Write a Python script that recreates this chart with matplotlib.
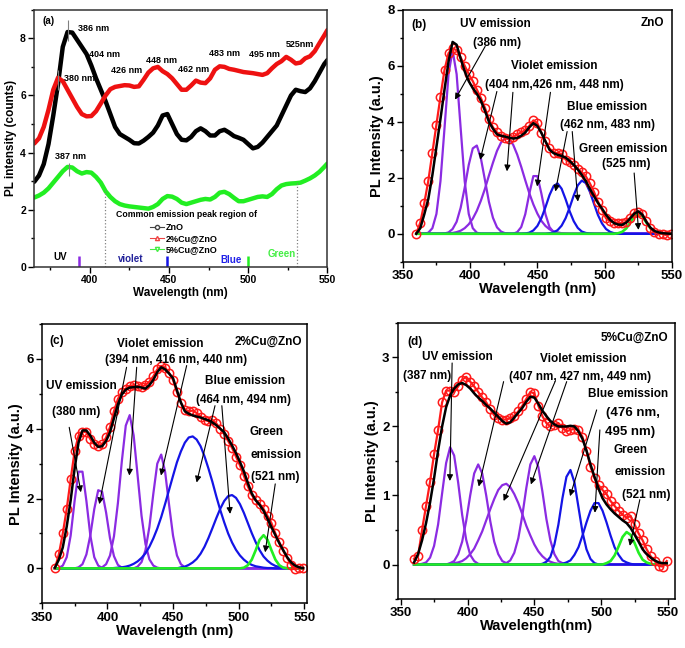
import numpy as np
import matplotlib.pyplot as plt
from matplotlib.lines import Line2D
from matplotlib.ticker import MultipleLocator

plt.rcParams['font.family'] = ['Liberation Sans', 'DejaVu Sans']
plt.rcParams['font.weight'] = 'bold'
plt.rcParams['axes.labelweight'] = 'bold'

PURPLE = '#8b2be2'
BLUE = '#1414e6'
GREEN = '#22ee22'

# ---- (a) raw PL spectra ----
wl_a = np.r_[np.arange(365, 549, 3), 550]
zno_a = [2.98, 3.2, 3.6, 4.3, 5.3, 6.4, 7.7, 8.22, 8.2, 7.95,
         7.7, 7.45, 7.05, 6.6, 6.2, 5.8, 5.35, 4.9, 4.65, 4.55,
         4.45, 4.33, 4.32, 4.42, 4.55, 4.7, 4.95, 5.3, 5.35, 5.0,
         4.65, 4.45, 4.43, 4.55, 4.75, 4.85, 4.75, 4.6, 4.6, 4.75,
         4.8, 4.7, 4.58, 4.52, 4.45, 4.3, 4.15, 4.2, 4.35, 4.55,
         4.75, 4.95, 5.3, 5.65, 6.0, 6.2, 6.15, 6.12, 6.25, 6.5,
         6.8, 7.1, 7.24]
cu2_a = [4.32, 4.5, 4.9, 5.5, 6.2, 6.62, 6.5, 6.2, 5.9, 5.6,
         5.35, 5.27, 5.28, 5.45, 5.72, 6.0, 6.22, 6.3, 6.33, 6.36,
         6.35, 6.3, 6.32, 6.55, 6.8, 6.95, 7.0, 6.85, 6.75, 6.6,
         6.4, 6.2, 6.2, 6.35, 6.52, 6.45, 6.43, 6.6, 6.9, 7.02,
         7.0, 6.93, 6.9, 6.86, 6.82, 6.8, 6.78, 6.75, 6.72, 6.78,
         6.95, 7.1, 7.2, 7.35, 7.25, 7.12, 7.15, 7.3, 7.37, 7.55,
         7.83, 8.1, 8.29]
cu5_a = [2.43, 2.5, 2.6, 2.75, 2.95, 3.15, 3.35, 3.5, 3.48, 3.35,
         3.27, 3.32, 3.3, 3.15, 2.95, 2.65, 2.45, 2.3, 2.2, 2.15,
         2.12, 2.1, 2.08, 2.06, 2.04, 2.1, 2.2, 2.38, 2.48, 2.46,
         2.38, 2.25, 2.2, 2.25, 2.3, 2.35, 2.38, 2.36, 2.45, 2.6,
         2.63, 2.55, 2.42, 2.3, 2.3, 2.35, 2.4, 2.45, 2.47, 2.45,
         2.55, 2.72, 2.85, 2.9, 2.92, 2.93, 2.95, 3.02, 3.1, 3.2,
         3.33, 3.5, 3.62]
peak_labels_a = ['386 nm', '404 nm', '380 nm', '426 nm', '448 nm',
                 '462 nm', '483 nm', '495 nm', '525nm', '387 nm']

# ---- (b)-(d) deconvoluted spectra, common grid 360..549 nm ----
wl_fit = np.arange(360, 550, 3)

zno_data = [0.0, 0.4, 1.1, 1.9, 2.9, 3.9, 4.9, 5.85, 6.45, 6.62,
            6.55, 6.3, 6.0, 5.7, 5.45, 5.15, 4.85, 4.5, 4.1, 3.8,
            3.62, 3.5, 3.42, 3.38, 3.45, 3.55, 3.62, 3.7, 3.85, 4.05,
            3.95, 3.6, 3.3, 3.05, 2.9, 2.88, 2.85, 2.65, 2.55, 2.45,
            2.3, 2.2, 2.05, 1.8, 1.5, 1.15, 0.85, 0.55, 0.45, 0.4,
            0.4, 0.38, 0.42, 0.58, 0.75, 0.78, 0.7, 0.45, 0.2, 0.05,
            0.0, 0.0, -0.05, 0.0]
zno_fit = [0.0, 0.2, 0.7, 1.25, 2.1, 3.1, 4.1, 5.15, 6.15, 6.85,
           6.75, 6.25, 5.8, 5.45, 5.2, 5.0, 4.75, 4.4, 4.0, 3.75,
           3.55, 3.5, 3.47, 3.43, 3.4, 3.42, 3.5, 3.62, 3.8, 3.95,
           3.85, 3.6, 3.3, 3.0, 2.88, 2.82, 2.78, 2.72, 2.6, 2.46,
           2.3, 2.1, 1.88, 1.6, 1.35, 1.1, 0.9, 0.68, 0.5, 0.38,
           0.33, 0.32, 0.4, 0.55, 0.72, 0.8, 0.68, 0.42, 0.22, 0.1,
           0.05, 0.02, 0.01, 0.0]
# (first wavelength, heights every 3 nm)
zno_peaks = [
    (369, [0.04, 0.2, 0.71, 1.88, 3.77, 5.7, 6.55, 5.7, 3.77, 1.88, 0.71, 0.2, 0.04]),
    (381, [0.01, 0.05, 0.17, 0.43, 0.93, 1.65, 2.46, 3.05, 3.15, 2.7, 1.93, 1.14,
           0.57, 0.23, 0.08, 0.02]),
    (384, [0.01, 0.03, 0.06, 0.11, 0.2, 0.34, 0.54, 0.82, 1.18, 1.6, 2.08, 2.54,
           2.96, 3.26, 3.41, 3.38, 3.18, 2.83, 2.39, 1.91, 1.45, 1.05, 0.72, 0.46,
           0.28, 0.16, 0.09, 0.05, 0.02, 0.01]),
    (435, [0.06, 0.24, 0.7, 1.43, 2.06, 2.06, 1.43, 0.7, 0.24, 0.06]),
    (441, [0.01, 0.04, 0.12, 0.28, 0.56, 0.95, 1.38, 1.7, 1.8, 1.61, 1.23, 0.8,
           0.45, 0.21, 0.08, 0.03, 0.01]),
    (459, [0.02, 0.05, 0.13, 0.29, 0.56, 0.94, 1.37, 1.73, 1.9, 1.81, 1.5, 1.08,
           0.67, 0.37, 0.17, 0.07, 0.02, 0.01]),
    (510, [0.02, 0.07, 0.19, 0.4, 0.62, 0.72, 0.62, 0.4, 0.19, 0.07, 0.02]),
]
zno_kinds = ['v', 'v', 'v', 'v', 'b', 'b', 'g']

cu2_data = [0.0, 0.4, 1.0, 1.7, 2.55, 3.35, 3.8, 3.92, 3.9, 3.7,
            3.55, 3.5, 3.55, 3.75, 4.05, 4.5, 4.85, 5.05, 5.15, 5.22,
            5.25, 5.22, 5.2, 5.25, 5.35, 5.5, 5.7, 5.8, 5.75, 5.6,
            5.4, 5.05, 4.75, 4.55, 4.5, 4.52, 4.45, 4.35, 4.25, 4.22,
            4.25, 4.15, 4.0, 3.85, 3.65, 3.45, 3.2, 2.95, 2.65, 2.35,
            2.1, 1.95, 1.85, 1.7, 1.5, 1.3, 1.0, 0.75, 0.5, 0.3,
            0.1, -0.03, 0.02, 0.0]
cu2_fit = [0.02, 0.25, 0.6, 1.2, 1.95, 2.85, 3.6, 3.95, 3.95, 3.8,
           3.6, 3.48, 3.5, 3.65, 3.9, 4.3, 4.7, 4.98, 5.12, 5.18,
           5.19, 5.2, 5.18, 5.15, 5.25, 5.4, 5.62, 5.76, 5.7, 5.58,
           5.45, 5.1, 4.75, 4.5, 4.43, 4.38, 4.35, 4.32, 4.28, 4.24,
           4.18, 4.1, 4.0, 3.9, 3.72, 3.52, 3.3, 3.05, 2.78, 2.45,
           2.15, 1.95, 1.82, 1.65, 1.42, 1.18, 0.95, 0.72, 0.52, 0.32,
           0.17, 0.08, 0.03, 0.01]
cu2_peaks = [
    (363, [0.01, 0.08, 0.32, 0.94, 1.93, 2.77, 2.77, 1.93, 0.94, 0.32, 0.08, 0.01]),
    (378, [0.03, 0.12, 0.4, 0.95, 1.7, 2.24, 2.19, 1.6, 0.86, 0.35, 0.1, 0.02]),
    (396, [0.03, 0.12, 0.37, 0.92, 1.87, 3.07, 4.09, 4.39, 3.81, 2.67, 1.51, 0.7,
           0.26, 0.08, 0.02]),
    (423, [0.05, 0.18, 0.52, 1.19, 2.14, 3.0, 3.26, 2.76, 1.82, 0.94, 0.37, 0.12,
           0.03, 0.01]),
    (405, [0.01, 0.02, 0.03, 0.05, 0.08, 0.13, 0.2, 0.3, 0.43, 0.62, 0.86, 1.14,
           1.47, 1.85, 2.25, 2.65, 3.04, 3.35, 3.6, 3.75, 3.78, 3.69, 3.5, 3.21,
           2.86, 2.48, 2.06, 1.67, 1.32, 1.0, 0.74, 0.53, 0.37, 0.25, 0.16, 0.1,
           0.06, 0.04, 0.02, 0.01, 0.01]),
    (456, [0.03, 0.05, 0.1, 0.17, 0.27, 0.42, 0.62, 0.87, 1.15, 1.44, 1.71, 1.93,
           2.07, 2.1, 2.02, 1.84, 1.59, 1.3, 1.01, 0.75, 0.52, 0.34, 0.22, 0.13,
           0.07, 0.04, 0.02, 0.01]),
    (506, [0.02, 0.09, 0.25, 0.52, 0.82, 0.95, 0.82, 0.52, 0.25, 0.09, 0.02]),
]
cu2_kinds = ['v', 'v', 'v', 'v', 'b', 'b', 'g']

cu5_data = [0.08, 0.12, 0.5, 0.85, 1.2, 1.6, 1.95, 2.35, 2.52, 2.52,
            2.5, 2.58, 2.68, 2.72, 2.65, 2.58, 2.5, 2.42, 2.35, 2.25,
            2.16, 2.12, 2.1, 2.1, 2.12, 2.15, 2.22, 2.3, 2.4, 2.5,
            2.48, 2.3, 2.15, 2.05, 2.0, 2.02, 2.05, 1.98, 1.93, 1.95,
            1.97, 1.95, 1.85, 1.65, 1.42, 1.25, 1.15, 1.08, 1.02, 0.92,
            0.85, 0.78, 0.72, 0.68, 0.7, 0.58, 0.45, 0.35, 0.22, 0.12,
            0.05, -0.02, -0.03, 0.05]
cu5_fit = [0.03, 0.15, 0.35, 0.6, 0.9, 1.25, 1.65, 2.0, 2.28, 2.45,
           2.55, 2.61, 2.63, 2.6, 2.55, 2.48, 2.42, 2.37, 2.31, 2.26,
           2.2, 2.14, 2.08, 2.04, 2.06, 2.13, 2.2, 2.27, 2.36, 2.43,
           2.42, 2.33, 2.23, 2.15, 2.08, 2.03, 2.0, 2.0, 2.0, 2.01,
           2.0, 1.93, 1.82, 1.65, 1.45, 1.27, 1.1, 0.96, 0.87, 0.8,
           0.74, 0.69, 0.64, 0.6, 0.53, 0.43, 0.33, 0.22, 0.15, 0.1,
           0.06, 0.03, 0.02, 0.02]
cu5_peaks = [
    (366, [0.01, 0.03, 0.1, 0.27, 0.58, 1.03, 1.47, 1.7, 1.58, 1.19, 0.72, 0.36,
           0.14, 0.05, 0.01]),
    (387, [0.02, 0.05, 0.15, 0.33, 0.63, 1.0, 1.32, 1.45, 1.32, 1.0, 0.63, 0.33,
           0.15, 0.05, 0.02]),
    (387, [0.01, 0.02, 0.03, 0.05, 0.09, 0.15, 0.23, 0.35, 0.48, 0.64, 0.8, 0.95,
           1.08, 1.15, 1.17, 1.12, 1.02, 0.89, 0.73, 0.56, 0.42, 0.29, 0.19, 0.12,
           0.07, 0.04, 0.02, 0.01]),
    (429, [0.02, 0.06, 0.17, 0.38, 0.71, 1.11, 1.45, 1.57, 1.41, 1.06, 0.66, 0.35,
           0.15, 0.05, 0.02]),
    (456, [0.01, 0.04, 0.11, 0.29, 0.58, 0.96, 1.27, 1.37, 1.19, 0.83, 0.47, 0.22,
           0.08, 0.02]),
    (471, [0.01, 0.03, 0.06, 0.14, 0.25, 0.42, 0.61, 0.78, 0.89, 0.89, 0.78, 0.61,
           0.42, 0.25, 0.14, 0.06, 0.03, 0.01]),
    (506, [0.02, 0.05, 0.13, 0.26, 0.4, 0.47, 0.43, 0.31, 0.17, 0.07, 0.03, 0.01]),
]
cu5_kinds = ['v', 'v', 'v', 'v', 'b', 'b', 'g']

KIND_COLOR = {'v': PURPLE, 'b': BLUE, 'g': GREEN}


def on_grid(start, vals):
    y = np.zeros(len(wl_fit))
    i = (start - 360) // 3
    y[i:i + len(vals)] = vals
    return y


def style_axes(ax, xlim, ylim, ymaj, ymin, labsize):
    ax.set_xlim(*xlim)
    ax.set_ylim(*ylim)
    ax.xaxis.set_major_locator(MultipleLocator(50))
    ax.xaxis.set_minor_locator(MultipleLocator(25))
    ax.yaxis.set_major_locator(MultipleLocator(ymaj))
    ax.yaxis.set_minor_locator(MultipleLocator(ymin))
    ax.tick_params(which='both', direction='out', top=False, right=False,
                   width=1.0, labelsize=labsize, pad=2)
    ax.tick_params(which='major', length=4)
    ax.tick_params(which='minor', length=2.5)
    for s in ax.spines.values():
        s.set_linewidth(1.1)


def arrow(ax, tail, head):
    ax.annotate('', xy=head, xytext=tail,
                arrowprops=dict(arrowstyle='-|>', color='k', lw=0.8,
                                mutation_scale=9, shrinkA=0, shrinkB=0))


def fit_panel(ax, data, fit, peaks, kinds):
    for (start, vals), k in zip(peaks, kinds):
        if k != 'g':
            ax.plot(wl_fit, on_grid(start, vals), color=KIND_COLOR[k], lw=1.6)
    for (start, vals), k in zip(peaks, kinds):
        if k == 'g':
            ax.plot(wl_fit, on_grid(start, vals), color=GREEN, lw=1.9)
    # measured points: open red circles (joined so the band stays continuous)
    ax.plot(wl_fit, data, '-o', color='#ff1a1a', lw=1.6, mfc='none', mec='#ff1a1a',
            ms=6, mew=1.1)
    ax.plot(wl_fit, fit, color='k', lw=1.8)
    ax.set_ylabel('PL Intensity (a.u.)', fontsize=10.5, labelpad=2)


fig = plt.figure(figsize=(6.85, 6.48), dpi=100)

# ---------------- (a) ----------------
ax = fig.add_axes([0.050, 0.588, 0.428, 0.397])
ax.plot(wl_a, zno_a, color='k', lw=3.2, solid_capstyle='round')
ax.plot(wl_a, cu2_a, color='#ee1111', lw=3.2, solid_capstyle='round')
ax.plot(wl_a, cu5_a, color=GREEN, lw=3.2, solid_capstyle='round')
style_axes(ax, (365, 550), (0, 9), 2, 1, 7.5)
for s in ax.spines.values():
    s.set_color('#333333')
ax.set_xlabel('Wavelength (nm)', fontsize=8.5, labelpad=1)
ax.set_ylabel('PL intensity (counts)', fontsize=8.5, labelpad=2)

ax.vlines([386, 380, 387], [7.9, 6.2, 3.2], [8.65, 6.9, 3.65], color='gray', lw=0.8)
label_pos = [(392.5, 8.35), (399.6, 7.44), (384, 6.6), (413.4, 6.86), (435.7, 7.24),
             (455.5, 6.92), (475.5, 7.48), (500.2, 7.42), (524, 7.79), (378, 3.86)]
for (x, y), s in zip(label_pos, peak_labels_a):
    ax.text(x, y, s, fontsize=6.5, va='center', ha='left')
ax.text(370.2, 8.62, '(a)', fontsize=7, va='center')

ax.vlines([409.5, 531], 0, [2.68, 2.93], color='gray', ls=':', lw=0.9)
ax.vlines(393, 0, 0.4, color=PURPLE, lw=1.8)
ax.vlines(449, 0, 0.4, color=BLUE, lw=1.8)
ax.vlines(500, 0, 0.37, color=GREEN, lw=1.8)
ax.text(377, 0.35, 'UV', fontsize=7, va='center')
ax.text(417.7, 0.29, 'violet', fontsize=7, va='center', color='#22229a')
ax.text(482.5, 0.26, 'Blue', fontsize=7, va='center', color='#2020e8')
ax.text(512, 0.47, 'Green', fontsize=7, va='center', color='#44ee44')
ax.text(416.6, 1.83, 'Common emission peak region of', fontsize=6.3, va='center')
handles = [Line2D([], [], color='#444444', lw=0.8, marker='o', mfc='white', ms=3),
           Line2D([], [], color='#ee4444', lw=0.8, marker='^', mfc='white', ms=3),
           Line2D([], [], color='#44ee44', lw=0.8, marker='v', mfc='white', ms=3)]
ax.legend(handles, ['ZnO', '2%Cu@ZnO', '5%Cu@ZnO'], loc='upper left',
          bbox_to_anchor=(438, 1.53), bbox_transform=ax.transData, frameon=False,
          fontsize=6.5, handlelength=1.6, handletextpad=0.2, labelspacing=0.2,
          borderpad=0, borderaxespad=0)

# ---------------- (b) ----------------
ax = fig.add_axes([0.588, 0.596, 0.393, 0.389])
fit_panel(ax, zno_data, zno_fit, zno_peaks, zno_kinds)
style_axes(ax, (350, 550), (-1, 8), 2, 1, 9.5)
ax.set_xlabel('Wavelength (nm)', fontsize=10.5, labelpad=0)
fs = 8.5
ax.text(356.5, 7.46, '(b)', fontsize=fs, va='center')
ax.text(544.3, 7.52, 'ZnO', fontsize=fs, va='center', ha='right')
for x, y, s in [(418.7, 7.49, 'UV emission'), (419.9, 6.81, '(386 nm)'),
                (462.5, 5.98, 'Violet emission'), (462.5, 5.32, '(404 nm,426 nm, 448 nm)'),
                (502, 4.52, 'Blue emission'), (502, 3.89, '(462 nm, 483 nm)'),
                (513.7, 3.02, 'Green emission'), (516.2, 2.5, '(525 nm)')]:
    ax.text(x, y, s, fontsize=fs, ha='center', va='center')
for t, h in [((411.2, 6.69), (388.8, 4.79)), ((419.9, 5.08), (407.5, 2.64)),
             ((431.8, 5.05), (427.4, 2.23)), ((459.7, 5.05), (449.8, 1.69)),
             ((472.1, 3.65), (463.4, 1.51)), ((475.9, 3.65), (480.1, 1.15)),
             ((521.9, 2.17), (525.1, 0.14))]:
    arrow(ax, t, h)

# ---------------- (c) ----------------
ax = fig.add_axes([0.061, 0.069, 0.387, 0.431])
fit_panel(ax, cu2_data, cu2_fit, cu2_peaks, cu2_kinds)
style_axes(ax, (350, 552), (-1, 7), 2, 1, 9.5)
ax.set_xlabel('Wavelength (nm)', fontsize=10.5, labelpad=0)
ax.text(356.1, 6.52, '(c)', fontsize=fs, va='center')
ax.text(548.2, 6.5, '2%Cu@ZnO', fontsize=fs, va='center', ha='right')
for x, y, s in [(440.6, 6.43, 'Violet emission'), (452, 5.97, '(394 nm, 416 nm, 440 nm)'),
                (380.3, 5.23, 'UV emission'), (376, 4.47, '(380 nm)'),
                (505, 5.38, 'Blue emission'), (503.7, 4.82, '(464 nm, 494 nm)'),
                (520.9, 3.92, 'Green'), (528.5, 3.25, 'emission'), (527.9, 2.61, '(521 nm)')]:
    ax.text(x, y, s, fontsize=fs, ha='center', va='center')
for t, h in [((370.9, 4.04), (379.8, 2.18)), ((414.6, 5.76), (393.8, 1.84)),
             ((422.3, 5.76), (416.7, 2.66)), ((460.4, 5.81), (440.8, 2.66)),
             ((482, 4.66), (468, 2.46)), ((487.2, 4.66), (493.5, 1.56)),
             ((527.9, 2.42), (520.2, 0.46))]:
    arrow(ax, t, h)

# ---------------- (d) ----------------
ax = fig.add_axes([0.581, 0.0756, 0.404, 0.426])
fit_panel(ax, cu5_data, cu5_fit, cu5_peaks, cu5_kinds)
style_axes(ax, (348, 555), (-0.5, 3.5), 1, 0.5, 9.5)
ax.set_xlabel('Wavelength(nm)', fontsize=10.5, labelpad=0)
ax.text(355, 3.23, '(d)', fontsize=fs, va='center')
ax.text(550, 3.28, '5%Cu@ZnO', fontsize=fs, va='center', ha='right')
for x, y, s in [(392.5, 3.0, 'UV emission'), (369.9, 2.73, '(387 nm)'),
                (486.6, 2.98, 'Violet emission'), (484.2, 2.71, '(407 nm, 427 nm, 449 nm)'),
                (520.2, 2.47, 'Blue emission'),
                (521.9, 1.66, 'Green'), (528.9, 1.34, 'emission'), (533.9, 1.01, '(521 nm)')]:
    ax.text(x, y, s, fontsize=fs, ha='center', va='center')
ax.text(523.9, 2.2, '(476 nm,', fontsize=9.5, ha='center', va='center')
ax.text(521.9, 1.92, '495 nm)', fontsize=9.5, ha='center', va='center')
for t, h in [((388.5, 2.92), (386.8, 1.21)), ((427, 2.65), (408.4, 1.13)),
             ((465.5, 2.65), (427, 0.92)), ((474.2, 2.65), (447.4, 1.16)),
             ((496.6, 2.24), (476.7, 0.99)), ((499, 1.95), (495.3, 0.75)),
             ((528.9, 0.94), (521.4, 0.27))]:
    arrow(ax, t, h)

fig.savefig('out.png', dpi=100)
